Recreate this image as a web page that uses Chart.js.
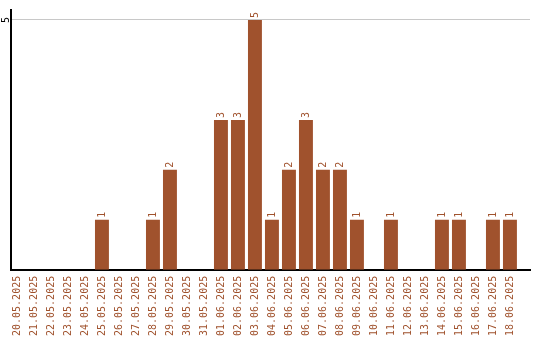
<!DOCTYPE html>
<html><head><meta charset="utf-8">
<script src="https://cdn.jsdelivr.net/npm/chart.js@4"></script>
<style>html,body{margin:0;padding:0;background:#fff}#wrap{width:540px;height:340px}</style>
</head><body><div id="wrap"><canvas id="c" width="540" height="340"></canvas></div>
<script>
const categories = ["20.05.2025","21.05.2025","22.05.2025","23.05.2025","24.05.2025","25.05.2025","26.05.2025","27.05.2025","28.05.2025","29.05.2025","30.05.2025","31.05.2025","01.06.2025","02.06.2025","03.06.2025","04.06.2025","05.06.2025","06.06.2025","07.06.2025","08.06.2025","09.06.2025","10.06.2025","11.06.2025","12.06.2025","13.06.2025","14.06.2025","15.06.2025","16.06.2025","17.06.2025","18.06.2025"];
const counts = [0,0,0,0,0,1,0,0,1,2,0,0,3,3,5,1,2,3,2,2,1,0,1,0,0,1,1,0,1,1];
const yTicks = [5];
const BROWN = '#a0522d';
const FONT = '"DejaVu Sans Mono", monospace';

const points = categories.map((c, i) => ({ x: i, y: counts[i] }));

const labelPlugin = {
  id: 'labels',
  afterDatasetsDraw(chart) {
    const ctx = chart.ctx;
    const meta = chart.getDatasetMeta(0);
    ctx.save();
    ctx.fillStyle = BROWN;
    ctx.font = '10px ' + FONT;
    ctx.textAlign = 'left';
    ctx.textBaseline = 'middle';
    meta.data.forEach((bar, i) => {
      const v = counts[i];
      if (!v) return;
      ctx.save();
      ctx.translate(bar.x, bar.y - 2);
      ctx.rotate(-Math.PI / 2);
      ctx.fillText(String(v), 0, 0);
      ctx.restore();
    });
    const ys = chart.scales.y;
    yTicks.forEach(t => {
      ctx.save();
      ctx.fillStyle = '#000';
      ctx.translate(ys.left - 5, ys.getPixelForValue(t));
      ctx.rotate(-Math.PI / 2);
      ctx.textAlign = 'center';
      ctx.fillText(String(t), 0, 0);
      ctx.restore();
    });
    ctx.restore();
  }
};

new Chart(document.getElementById('c'), {
  type: 'bar',
  data: { datasets: [{ data: points, backgroundColor: BROWN, borderWidth: 0, barPercentage: 0.82, categoryPercentage: 1 }] },
  options: {
    responsive: false, animation: false,
    layout: { padding: { left: 11, top: 10, right: 10, bottom: -2 } },
    plugins: { legend: { display: false }, tooltip: { enabled: false } },
    scales: {
      x: {
        type: 'linear', offset: false,
        min: -0.35, max: 30.18,
        afterBuildTicks: s => { s.ticks = categories.map((c, i) => ({ value: i })); },
        grid: { display: false, drawTicks: false },
        border: { color: '#000', width: 2 },
        ticks: { color: BROWN, font: { family: FONT, size: 10 }, minRotation: 90, maxRotation: 90, padding: 6, autoSkip: false,
                 callback: v => categories[v] }
      },
      y: {
        min: 0, max: 5.2,
        afterBuildTicks: s => { s.ticks = yTicks.map(v => ({ value: v })); },
        grid: { color: '#c8c8c8', drawTicks: false },
        border: { color: '#000', width: 2 },
        ticks: { display: false }
      }
    }
  },
  plugins: [labelPlugin]
});
</script></body></html>
